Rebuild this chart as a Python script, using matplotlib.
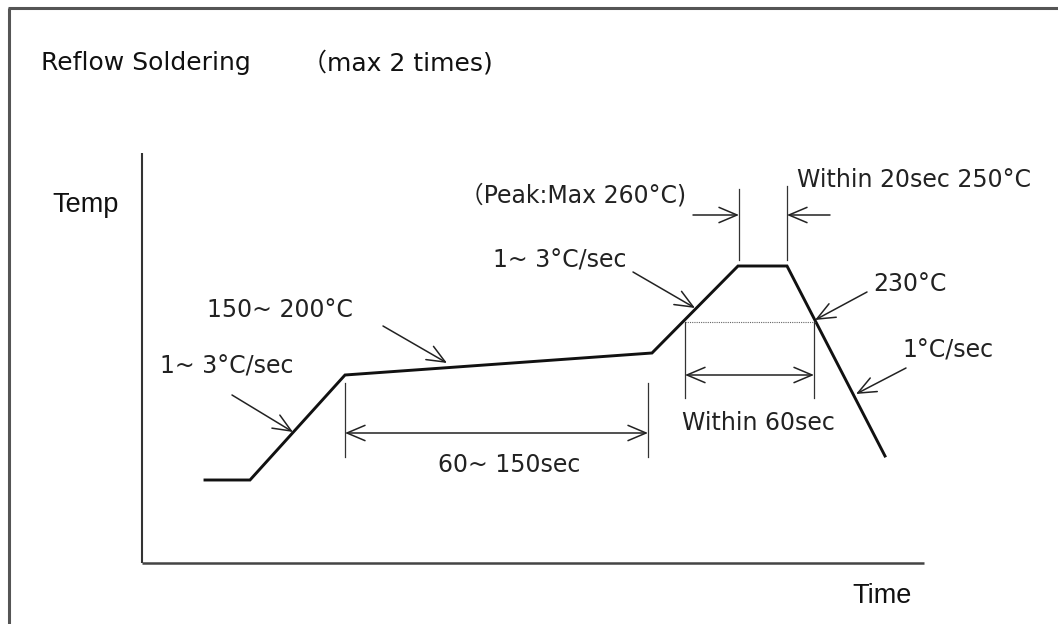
import matplotlib
matplotlib.use("Agg")
import matplotlib.pyplot as plt
from matplotlib.patches import ArrowStyle

# Reflow profile, in diagram units (origin at the axes corner, temp upwards)
profile_time = [63, 108, 203, 510, 596, 645, 743]
profile_temp = [83, 83, 188, 210, 297, 297, 107]

title_text = "Reflow Soldering"
title_note = "（max 2 times)"
y_label = "Temp"
x_label = "Time"

# label text, anchor x, baseline y, horizontal alignment
labels = [
    ("（Peak:Max 260°C)", 544, 360, "right"),
    ("Within 20sec 250°C", 655, 376, "left"),
    ("1~ 3°C/sec", 351, 295, "left"),
    ("150~ 200°C", 65, 246, "left"),
    ("1~ 3°C/sec", 18, 190, "left"),
    ("230°C", 731, 272, "left"),
    ("1°C/sec", 760, 205, "left"),
    ("Within 60sec", 540, 133, "left"),
    ("60~ 150sec", 296, 91, "left"),
]

# pointer arrows: (tail x, tail y, tip x, tip y)
pointers = [
    (90, 168, 151, 131),
    (241, 237, 305, 200),
    (491, 291, 553, 255),
    (725, 271, 673, 243),
    (764, 195, 714, 169),
    (551, 348, 597, 348),
    (688, 348, 645, 348),
]

# dimension spans: (x0, x1, arrow y, extension bottom, extension top)
spans = [
    (203, 506, 130, 106, 180),
    (543, 672, 188, 165, 241),
]

# extension lines marking the 20 s window at peak
peak_marks = [(597, 303, 374), (645, 303, 377)]
liquidus_y = 241

W, H = 1058, 624
fig = plt.figure(figsize=(W / 100, H / 100), dpi=100)
ax = fig.add_axes([0, 0, 1, 1])
ax.set_xlim(-142, W - 142)
ax.set_ylim(563 - H, 563)
ax.axis("off")

txt_font = ["DejaVu Sans", "Noto Sans CJK JP"]
fs = 17

# outer frame (top and left edges)
ax.plot([-134, W - 142], [555.5, 555.5], color="#555555", lw=2.2, solid_capstyle="butt")
ax.plot([-133.5, -133.5], [555.5, 563 - H], color="#555555", lw=2.2, solid_capstyle="butt")

# axes
ax.plot([0, 0], [410, 0], color="#333333", lw=1.5, solid_capstyle="butt")
ax.plot([0, 782], [0, 0], color="#444444", lw=1.8, solid_capstyle="butt")

# profile curve
ax.plot(profile_time, profile_temp, color="#111111", lw=2.1, solid_joinstyle="miter")

# liquidus dotted line
ax.plot([spans[1][0], spans[1][1] + 1], [liquidus_y, liquidus_y], color="#666666",
        lw=0.8, ls=(0, (1, 1)))

head = ArrowStyle("->", head_length=1.3, head_width=0.55)
head2 = ArrowStyle("<->", head_length=1.3, head_width=0.55)

for x0, y0, x1, y1 in pointers:
    ax.annotate("", xy=(x1, y1), xytext=(x0, y0),
                arrowprops=dict(arrowstyle=head, color="#222222", lw=1.1,
                                shrinkA=0, shrinkB=0, mutation_scale=10))

for x0, x1, ya, yb, yt in spans:
    ax.plot([x0, x0], [yb, yt], color="#333333", lw=0.9)
    ax.plot([x1, x1], [yb, yt], color="#333333", lw=0.9)
    ax.annotate("", xy=(x1, ya), xytext=(x0, ya),
                arrowprops=dict(arrowstyle=head2, color="#222222", lw=1.1,
                                shrinkA=0, shrinkB=0, mutation_scale=10))

for x, yb, yt in peak_marks:
    ax.plot([x, x], [yb, yt], color="#333333", lw=0.9)

for s, x, y, ha in labels:
    ax.text(x, y, s, ha=ha, va="baseline", fontsize=fs, family=txt_font, color="#222222")

ax.text(-101, 493, title_text, ha="left", va="baseline", fontsize=18, family=txt_font,
        color="#111111")
ax.text(160, 493, title_note, ha="left", va="baseline", fontsize=18, family=txt_font,
        color="#111111")

ax.text(-90, 351, y_label, ha="left", va="baseline", fontsize=19.5,
        family=["Liberation Sans"], color="#111111")
ax.text(710, -40, x_label, ha="left", va="baseline", fontsize=19.5,
        family=["Liberation Sans"], color="#111111")

fig.savefig("out.png", dpi=100, facecolor="white")
